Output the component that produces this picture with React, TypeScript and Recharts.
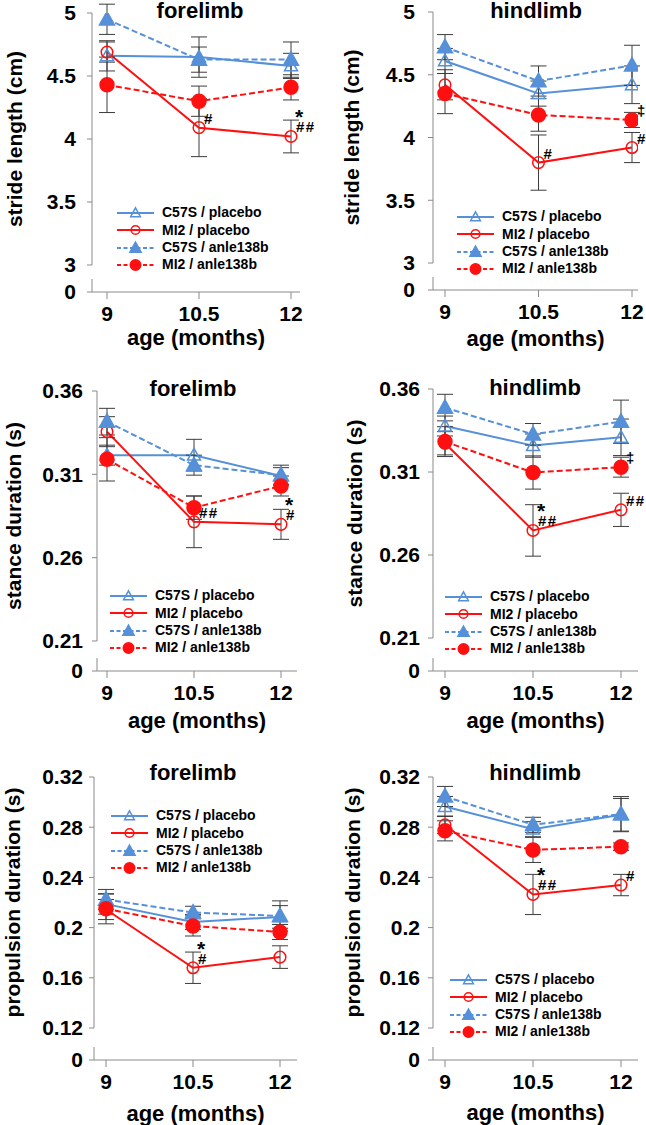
import React from 'react';
import { LineChart, Line, XAxis, YAxis, ErrorBar, LabelList, ReferenceLine } from 'recharts';

const FONT = '"Liberation Sans", Arial, Helvetica, sans-serif';
const BLUE = '#5590d8';
const RED = '#ff1010';
const AXIS = '#8a8a8a';
const ERR = '#3c3c3c';

const ages = [9, 10.5, 12];
const legendNames = ['C57S / placebo', 'MI2 / placebo', 'C57S / anle138b', 'MI2 / anle138b'];

// stride length (cm), forelimb
const strideForeC57SPlacebo = [4.66, 4.65, 4.58];
const strideForeC57SPlaceboErr = [0.12, 0.16, 0.1];
const strideForeMI2Placebo = [4.69, 4.09, 4.02];
const strideForeMI2PlaceboErr = [0.08, 0.23, 0.13];
const strideForeMI2PlaceboSig = ['', '#', '*|##'];
const strideForeC57SAnle = [4.95, 4.63, 4.63];
const strideForeC57SAnleErr = [0.12, 0.1, 0.14];
const strideForeMI2Anle = [4.43, 4.3, 4.41];
const strideForeMI2AnleErr = [0.22, 0.12, 0.1];

// stride length (cm), hindlimb
const strideHindC57SPlacebo = [4.61, 4.35, 4.42];
const strideHindC57SPlaceboErr = [0.1, 0.1, 0.15];
const strideHindMI2Placebo = [4.42, 3.8, 3.92];
const strideHindMI2PlaceboErr = [0.12, 0.22, 0.12];
const strideHindMI2PlaceboSig = ['', '#', '#'];
const strideHindC57SAnle = [4.72, 4.45, 4.575];
const strideHindC57SAnleErr = [0.1, 0.12, 0.16];
const strideHindMI2Anle = [4.35, 4.18, 4.14];
const strideHindMI2AnleErr = [0.16, 0.13, 0.06];
const strideHindMI2AnleSig = ['', '', '‡'];

// stance duration (s), forelimb
const stanceForeC57SPlacebo = [0.3215, 0.3215, 0.309];
const stanceForeC57SPlaceboErr = [0.006, 0.0095, 0.005];
const stanceForeMI2Placebo = [0.3356, 0.2815, 0.28];
const stanceForeMI2PlaceboErr = [0.009, 0.0155, 0.009];
const stanceForeMI2PlaceboSig = ['', '##', '*|#'];
const stanceForeC57SAnle = [0.3416, 0.3155, 0.3095];
const stanceForeC57SAnleErr = [0.008, 0.006, 0.006];
const stanceForeMI2Anle = [0.319, 0.29, 0.303];
const stanceForeMI2AnleErr = [0.013, 0.007, 0.006];

// stance duration (s), hindlimb
const stanceHindC57SPlacebo = [0.3377, 0.3259, 0.3309];
const stanceHindC57SPlaceboErr = [0.006, 0.007, 0.011];
const stanceHindMI2Placebo = [0.3273, 0.2748, 0.2872];
const stanceHindMI2PlaceboErr = [0.007, 0.0155, 0.01];
const stanceHindMI2PlaceboSig = ['', '*|##', '##'];
const stanceHindC57SAnle = [0.3488, 0.3327, 0.3403];
const stanceHindC57SAnleErr = [0.008, 0.0065, 0.013];
const stanceHindMI2Anle = [0.3283, 0.3097, 0.3129];
const stanceHindMI2AnleErr = [0.009, 0.01, 0.006];
const stanceHindMI2AnleSig = ['', '', '‡'];

// propulsion duration (s), forelimb
const propForeC57SPlacebo = [0.2187, 0.2045, 0.2085];
const propForeC57SPlaceboErr = [0.008, 0.006, 0.009];
const propForeMI2Placebo = [0.2144, 0.168, 0.1765];
const propForeMI2PlaceboErr = [0.008, 0.0125, 0.009];
const propForeMI2PlaceboSig = ['', '*|#', ''];
const propForeC57SAnle = [0.2224, 0.212, 0.2093];
const propForeC57SAnleErr = [0.008, 0.005, 0.012];
const propForeMI2Anle = [0.215, 0.2013, 0.1965];
const propForeMI2AnleErr = [0.012, 0.008, 0.006];

// propulsion duration (s), hindlimb
const propHindC57SPlacebo = [0.2965, 0.2784, 0.2899];
const propHindC57SPlaceboErr = [0.008, 0.006, 0.013];
const propHindMI2Placebo = [0.2819, 0.2264, 0.2339];
const propHindMI2PlaceboErr = [0.007, 0.016, 0.0085];
const propHindMI2PlaceboSig = ['', '*|##', '#'];
const propHindC57SAnle = [0.3045, 0.2819, 0.2904];
const propHindC57SAnleErr = [0.008, 0.006, 0.014];
const propHindMI2Anle = [0.2771, 0.2619, 0.2645];
const propHindMI2AnleErr = [0.008, 0.01, 0.003];

const strideTicks = [3, 3.5, 4, 4.5, 5];
const stanceTicks = [0.21, 0.26, 0.31, 0.36];
const propTicks = [0.12, 0.16, 0.2, 0.24, 0.28, 0.32];

// series look, in legend order
const looks = [
  { color: BLUE, dashed: false, filled: false, shape: 'tri' },
  { color: RED, dashed: false, filled: false, shape: 'circ' },
  { color: BLUE, dashed: true, filled: true, shape: 'tri' },
  { color: RED, dashed: true, filled: true, shape: 'circ' },
];

type SeriesData = { mean: number[]; err: number[]; sig?: string[] };

type Panel = {
  title: string;
  yLabel: string;
  ticks: number[];
  series: SeriesData[];
  // layout (page px)
  px: number; py: number;
  axisX: number; x9: number; x12: number; xEnd: number;
  yTopPx: number; yLowPx: number; y0Px: number;
  tickGap: number; yLabelX: number;
  titleX: number; titleY: number; ageDy: number;
  legendX: number; legendY: number;
};

const panels: Panel[] = [
  {
    title: 'forelimb', yLabel: 'stride length (cm)', ticks: strideTicks,
    series: [
      { mean: strideForeC57SPlacebo, err: strideForeC57SPlaceboErr },
      { mean: strideForeMI2Placebo, err: strideForeMI2PlaceboErr, sig: strideForeMI2PlaceboSig },
      { mean: strideForeC57SAnle, err: strideForeC57SAnleErr },
      { mean: strideForeMI2Anle, err: strideForeMI2AnleErr },
    ],
    px: 0, py: 0, axisX: 92, x9: 107, x12: 291, xEnd: 300,
    yTopPx: 13, yLowPx: 265, y0Px: 292, tickGap: 11, yLabelX: 14,
    titleX: 200, titleY: 11, ageDy: 45, legendX: 117, legendY: 213,
  },
  {
    title: 'hindlimb', yLabel: 'stride length (cm)', ticks: strideTicks,
    series: [
      { mean: strideHindC57SPlacebo, err: strideHindC57SPlaceboErr },
      { mean: strideHindMI2Placebo, err: strideHindMI2PlaceboErr, sig: strideHindMI2PlaceboSig },
      { mean: strideHindC57SAnle, err: strideHindC57SAnleErr },
      { mean: strideHindMI2Anle, err: strideHindMI2AnleErr, sig: strideHindMI2AnleSig },
    ],
    px: 323, py: 0, axisX: 433, x9: 445, x12: 632, xEnd: 638,
    yTopPx: 12, yLowPx: 263, y0Px: 290, tickGap: 13, yLabelX: 351,
    titleX: 536, titleY: 11, ageDy: 48, legendX: 457, legendY: 217,
  },
  {
    title: 'forelimb', yLabel: 'stance duration (s)', ticks: stanceTicks,
    series: [
      { mean: stanceForeC57SPlacebo, err: stanceForeC57SPlaceboErr },
      { mean: stanceForeMI2Placebo, err: stanceForeMI2PlaceboErr, sig: stanceForeMI2PlaceboSig },
      { mean: stanceForeC57SAnle, err: stanceForeC57SAnleErr },
      { mean: stanceForeMI2Anle, err: stanceForeMI2AnleErr },
    ],
    px: 0, py: 375, axisX: 97, x9: 107, x12: 281, xEnd: 297,
    yTopPx: 391, yLowPx: 641, y0Px: 671, tickGap: 9, yLabelX: 13,
    titleX: 193, titleY: 389, ageDy: 49, legendX: 110, legendY: 596,
  },
  {
    title: 'hindlimb', yLabel: 'stance duration (s)', ticks: stanceTicks,
    series: [
      { mean: stanceHindC57SPlacebo, err: stanceHindC57SPlaceboErr },
      { mean: stanceHindMI2Placebo, err: stanceHindMI2PlaceboErr, sig: stanceHindMI2PlaceboSig },
      { mean: stanceHindC57SAnle, err: stanceHindC57SAnleErr },
      { mean: stanceHindMI2Anle, err: stanceHindMI2AnleErr, sig: stanceHindMI2AnleSig },
    ],
    px: 323, py: 375, axisX: 433, x9: 445, x12: 621, xEnd: 638,
    yTopPx: 389, yLowPx: 638, y0Px: 671, tickGap: 8, yLabelX: 354,
    titleX: 535, titleY: 388, ageDy: 49, legendX: 445, legendY: 597,
  },
  {
    title: 'forelimb', yLabel: 'propulsion duration (s)', ticks: propTicks,
    series: [
      { mean: propForeC57SPlacebo, err: propForeC57SPlaceboErr },
      { mean: propForeMI2Placebo, err: propForeMI2PlaceboErr, sig: propForeMI2PlaceboSig },
      { mean: propForeC57SAnle, err: propForeC57SAnleErr },
      { mean: propForeMI2Anle, err: propForeMI2AnleErr },
    ],
    px: 0, py: 750, axisX: 94, x9: 106, x12: 280, xEnd: 297,
    yTopPx: 777, yLowPx: 1028, y0Px: 1060, tickGap: 6, yLabelX: 12.5,
    titleX: 193, titleY: 773, ageDy: 53, legendX: 111, legendY: 816,
  },
  {
    title: 'hindlimb', yLabel: 'propulsion duration (s)', ticks: propTicks,
    series: [
      { mean: propHindC57SPlacebo, err: propHindC57SPlaceboErr },
      { mean: propHindMI2Placebo, err: propHindMI2PlaceboErr, sig: propHindMI2PlaceboSig },
      { mean: propHindC57SAnle, err: propHindC57SAnleErr },
      { mean: propHindMI2Anle, err: propHindMI2AnleErr },
    ],
    px: 323, py: 750, axisX: 433, x9: 445, x12: 621, xEnd: 638,
    yTopPx: 777, yLowPx: 1028, y0Px: 1060, tickGap: 8, yLabelX: 352,
    titleX: 535, titleY: 773, ageDy: 52, legendX: 450, legendY: 980,
  },
];

const W = 323;
const H = 375;

function Marker({ cx, cy, look, s = 1 }: any) {
  const { color, filled, shape } = look;
  if (shape === 'tri') {
    const w = (filled ? 15 : 13) * s;
    const h = w * 0.9;
    const pts = `${cx},${cy - h * 0.58} ${cx + w / 2},${cy + h * 0.42} ${cx - w / 2},${cy + h * 0.42}`;
    return <polygon points={pts} fill={filled ? color : 'none'} stroke={color} strokeWidth={1.5} />;
  }
  const r = (filled ? 7 : 5.8) * s;
  return <circle cx={cx} cy={cy} r={r} fill={filled ? color : 'none'} stroke={color} strokeWidth={1.5} />;
}

// significance marks: '*' sits above the '#'/'##' mark of the same point
const renderSig = (props: any) => {
  const { x, y, value, index } = props;
  if (!value) return null;
  const parts = String(value).split('|');
  return (
    <g key={`sig-${index}`} fontWeight={700} fontFamily={FONT} fill="#000">
      {parts.map((p, i) =>
        p === '*' ? (
          <text key={i} x={x + 4} y={y - 12} fontSize={21}>*</text>
        ) : (
          <text key={i} x={x + 5} y={y - 4} fontSize={15} letterSpacing={1.5}>{p}</text>
        )
      )}
    </g>
  );
};

function PanelChart({ p }: { p: Panel }) {
  const topVal = Math.max(...p.ticks);
  const lowVal = Math.min(...p.ticks);
  const yScale = (p.yLowPx - p.yTopPx) / (topVal - lowVal);
  const yMin = lowVal - (p.y0Px - p.yLowPx) / yScale;
  const breakVal = yMin + 13 / yScale;
  const xScale = (p.x12 - p.x9) / 3;
  const xMin = 9 - (p.x9 - p.axisX) / xScale;
  const xMax = 12 + (p.xEnd - p.x12) / xScale;
  const tickStyle = { fill: '#000', fontSize: 21, fontWeight: 700, fontFamily: FONT };

  const yLabel = () => {
    const x = p.yLabelX - p.px;
    const y = (p.yTopPx + p.yLowPx) / 2 - p.py;
    return (
      <text x={x} y={y} transform={`rotate(-90, ${x}, ${y})`} textAnchor="middle" dominantBaseline="central"
        fontSize={21} fontWeight={700} fontFamily={FONT} fill="#000">
        {p.yLabel}
      </text>
    );
  };
  const xLabel = () => (
    <text x={(p.axisX + p.xEnd) / 2 - p.px} y={p.y0Px - p.py + p.ageDy} textAnchor="middle" dominantBaseline="central"
      fontSize={22} fontWeight={700} fontFamily={FONT} fill="#000">
      age (months)
    </text>
  );

  return (
    <div style={{ position: 'absolute', left: p.px, top: p.py, width: W, height: H }}>
      <LineChart
        width={W}
        height={H}
        margin={{ top: p.yTopPx - p.py, right: p.px + W - p.xEnd, left: 0, bottom: 0 }}
      >
        <XAxis
          type="number"
          dataKey="x"
          domain={[xMin, xMax]}
          allowDataOverflow
          ticks={ages}
          interval={0}
          tickSize={7}
          tickMargin={7}
          axisLine={{ stroke: AXIS }}
          tickLine={{ stroke: AXIS }}
          tick={tickStyle}
          height={p.py + H - p.y0Px}
          label={xLabel}
        />
        <YAxis
          type="number"
          domain={[yMin, topVal]}
          allowDataOverflow
          ticks={[yMin, ...p.ticks]}
          interval={0}
          tickFormatter={(v: number) => (v === yMin ? '0' : String(v))}
          width={p.axisX - p.px}
          axisLine={false}
          tickSize={5}
          tickMargin={p.tickGap}
          tickLine={{ stroke: AXIS }}
          tick={tickStyle}
          label={yLabel}
        />
        <ReferenceLine segment={[{ x: xMin, y: topVal }, { x: xMin, y: lowVal }]} stroke={AXIS} ifOverflow="visible" />
        <ReferenceLine segment={[{ x: xMin, y: breakVal }, { x: xMin, y: yMin }]} stroke={AXIS} ifOverflow="visible" />
        {p.series.map((s, i) => {
          const look = looks[i];
          const data = ages.map((x, j) => ({ x, y: s.mean[j], err: s.err[j], sig: s.sig ? s.sig[j] : '' }));
          return (
            <Line
              key={i}
              data={data}
              dataKey="y"
              stroke={look.color}
              strokeWidth={2}
              strokeDasharray={look.dashed ? '6 3' : undefined}
              dot={(d: any) => <Marker key={`m${i}-${d.index}`} cx={d.cx} cy={d.cy} look={look} />}
              activeDot={false}
              isAnimationActive={false}
            >
              <ErrorBar dataKey="err" direction="y" width={8} stroke={ERR} strokeWidth={1} />
              <LabelList dataKey="sig" content={renderSig} />
            </Line>
          );
        })}
      </LineChart>
      <div
        style={{
          position: 'absolute', left: p.titleX - p.px, top: p.titleY - p.py, transform: 'translate(-50%, -50%)',
          fontSize: 22, fontWeight: 700, lineHeight: 1, whiteSpace: 'nowrap', fontFamily: FONT,
        }}
      >
        {p.title}
      </div>
      <div
        style={{
          position: 'absolute', left: p.legendX - p.px, top: p.legendY - p.py - 8.65,
          fontFamily: FONT, fontWeight: 700, fontSize: 14,
        }}
      >
        {legendNames.map((name, i) => {
          const look = looks[i];
          return (
            <div key={name} style={{ display: 'flex', alignItems: 'center', height: 17.3 }}>
              <svg width={37} height={16} style={{ display: 'block' }}>
                <line x1={0} x2={37} y1={8} y2={8} stroke={look.color} strokeWidth={2}
                  strokeDasharray={look.dashed ? '4 2.5' : undefined} />
                <Marker cx={18.5} cy={8} look={look} s={0.75} />
              </svg>
              <span style={{ marginLeft: 8, whiteSpace: 'nowrap', lineHeight: '17px' }}>{name}</span>
            </div>
          );
        })}
      </div>
    </div>
  );
}

export default function App() {
  return (
    <div style={{ position: 'absolute', left: 0, top: 0, width: 646, height: 1125, background: '#fff', fontFamily: FONT }}>
      {panels.map((p, i) => (
        <PanelChart key={i} p={p} />
      ))}
    </div>
  );
}
